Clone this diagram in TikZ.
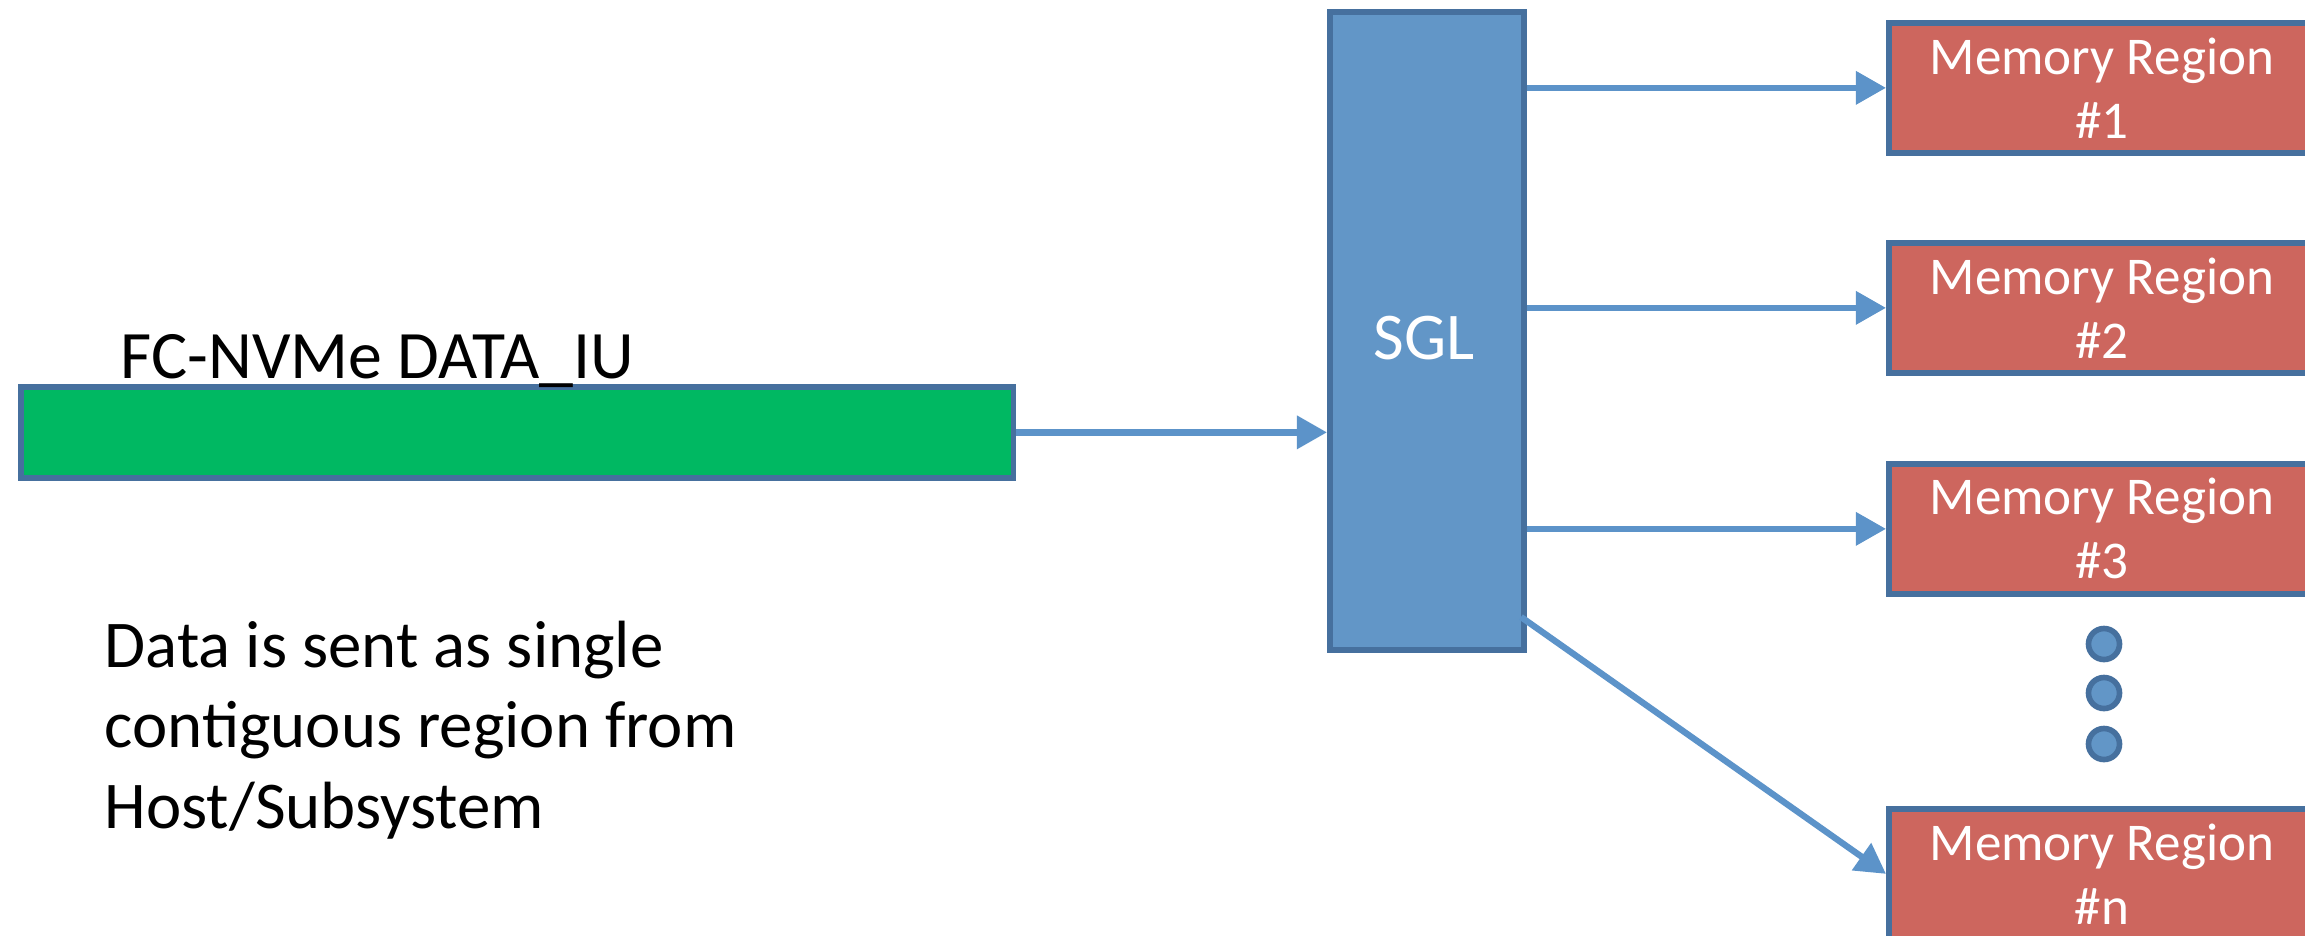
\documentclass[tikz,border=0pt]{standalone}
\usepackage{fontspec}
\setmainfont{Carlito}
\usetikzlibrary{arrows.meta}
\definecolor{sglblue}{RGB}{98,150,199}
\definecolor{edgeblue}{RGB}{70,112,158}
\definecolor{arrowblue}{RGB}{92,147,201}
\definecolor{regionred}{RGB}{205,102,94}
\definecolor{iugreen}{RGB}{0,184,98}
\begin{document}
\begin{tikzpicture}[x=0.01cm,y=-0.01cm,
  boxedge/.style={draw=edgeblue,line width=1.6pt},
  regionbox/.style={boxedge,fill=regionred,anchor=north west,minimum width=4.26cm,
    minimum height=1.30cm,inner sep=0pt,text=white,align=center,
    font=\fontsize{15.1}{18.2}\selectfont},
  dotmark/.style={circle,draw=edgeblue,line width=1.6pt,fill=sglblue,minimum size=0.31cm,inner sep=0pt},
  flow/.style={draw=arrowblue,line width=1.8pt,-{Triangle[length=0.3cm,width=0.32cm]}}]
\useasboundingbox (0,0) rectangle (2305,935);
\begin{scope}
\clip (0,0) rectangle (2305,935);
% incoming data unit
\node[boxedge,fill=iugreen,anchor=north west,minimum width=9.92cm,minimum height=0.91cm,inner sep=0pt]
  (iu) at (18,384) {};
\node[anchor=base west,inner sep=0pt,font=\fontsize{19.3}{23}\selectfont] (iulabel) at (120,378) {FC-NVMe DATA\_IU};
\node[anchor=base west,inner sep=0pt,align=left,font=\fontsize{19}{22.8}\selectfont] (note) at (104,828)
  {Data is sent as single\\contiguous region from\\Host/Subsystem};
% scatter-gather list
\node[boxedge,fill=sglblue,anchor=north west,minimum width=1.94cm,minimum height=6.38cm,inner sep=0pt]
  (sgl) at (1327,9) {};
\node[text=white,font=\fontsize{19}{22}\selectfont,inner sep=0pt] (sgllabel) at (1424,338) {SGL};
% memory regions
\node[regionbox] (m1) at (1886,20) {Memory Region\\\#1};
\node[regionbox] (m2) at (1886,240) {Memory Region\\\#2};
\node[regionbox] (m3) at (1886,461) {Memory Region\\\#3};
\node[regionbox] (mn) at (1886,806) {Memory Region\\\#n};
\node[dotmark] (d1) at (2104,644) {};
\node[dotmark] (d2) at (2104,693) {};
\node[dotmark] (d3) at (2104,744) {};
% connectors
\draw[flow] (iu.east) -- (iu.east -| sgl.west);
\draw[flow] (sgl.east |- m1.west) -- (m1.west);
\draw[flow] (sgl.east |- m2.west) -- (m2.west);
\draw[flow] (sgl.east |- m3.west) -- (m3.west);
\coordinate (dstart) at (1521,617);
\draw[flow] (dstart) -- (mn.west);
\end{scope}
\end{tikzpicture}
\end{document}
